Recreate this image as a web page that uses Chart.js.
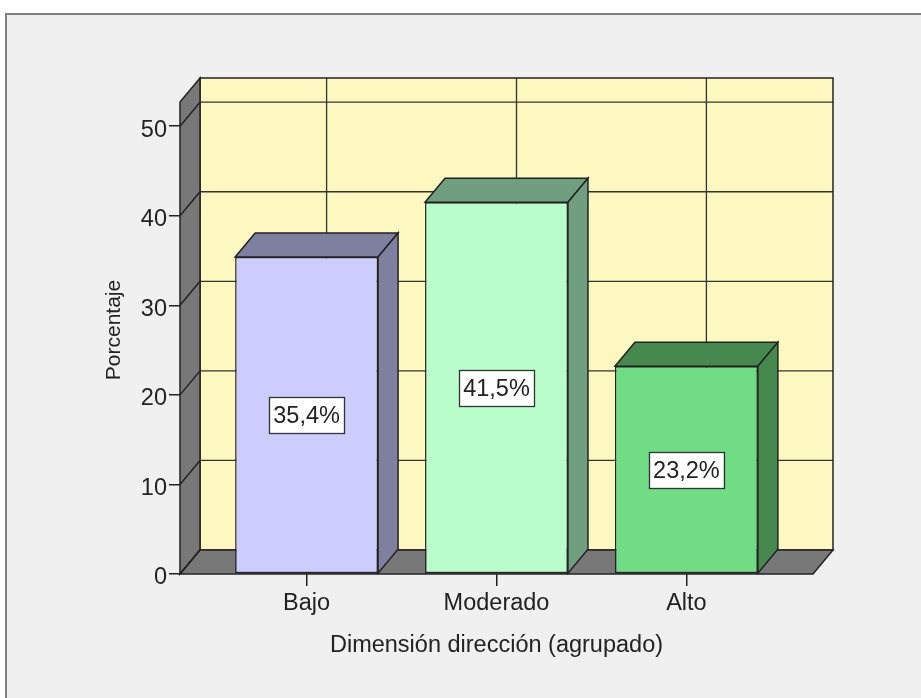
<!DOCTYPE html>
<html>
<head>
<meta charset="utf-8">
<style>
  html, body { margin: 0; padding: 0; background: #ffffff; }
  canvas { display: block; }
</style>
<script src="https://cdn.jsdelivr.net/npm/chart.js@4.4.1/dist/chart.umd.min.js"></script>
</head>
<body>
<canvas id="c" width="921" height="698"></canvas>
<script>
// ---- data ----
const categories = ['Bajo', 'Moderado', 'Alto'];
const percentages = [35.4, 41.5, 23.2];
const yTickValues = [0, 10, 20, 30, 40, 50];
const xTitle = 'Dimensión dirección (agrupado)';
const yTitle = 'Porcentaje';

// ---- styles ----
const frontColors = ['#ccccff', '#b9fdcb', '#70dc84'];
const sideColors = ['#7f7f9f', '#6f9f7f', '#45894f'];
const WALL = '#787878';
const BACK = '#fcf8c0';
const EDGE = '#222222';
const GRID = '#333333';
const DX = 20, DY = 24;
const FONT = '"Liberation Sans", Arial, sans-serif';

const threeD = {
  id: 'threeD',
  beforeDraw(chart) {
    const ctx = chart.ctx;
    ctx.save();
    ctx.fillStyle = '#ffffff';
    ctx.fillRect(0, 0, chart.width, chart.height);
    ctx.fillStyle = '#f0f0f0';
    ctx.fillRect(5, 13, chart.width, chart.height);
    ctx.strokeStyle = '#808080';
    ctx.lineWidth = 2;
    ctx.beginPath();
    ctx.moveTo(6, chart.height + 5);
    ctx.lineTo(6, 14);
    ctx.lineTo(chart.width + 5, 14);
    ctx.stroke();
    ctx.restore();
  },
  beforeDatasetsDraw(chart) {
    const ctx = chart.ctx;
    const xs = chart.scales.x, ys = chart.scales.y;
    const {left, right} = chart.chartArea;
    const y0 = ys.getPixelForValue(0);
    const yMax = ys.getPixelForValue(ys.max);
    ctx.save();
    ctx.lineJoin = 'miter';
    // back wall
    ctx.fillStyle = BACK;
    ctx.fillRect(left + DX, yMax - DY, right - left, y0 - yMax);
    // back grid lines
    ctx.strokeStyle = GRID;
    ctx.lineWidth = 1.3;
    ctx.beginPath();
    yTickValues.forEach(v => {
      if (v === 0) return;
      const py = ys.getPixelForValue(v) - DY;
      ctx.moveTo(left + DX, py);
      ctx.lineTo(right + DX, py);
    });
    categories.forEach((c, i) => {
      const px = xs.getPixelForValue(i) + DX;
      ctx.moveTo(px, yMax - DY);
      ctx.lineTo(px, y0 - DY);
    });
    ctx.stroke();
    // back wall outline
    ctx.strokeStyle = EDGE;
    ctx.lineWidth = 1.5;
    ctx.strokeRect(left + DX, yMax - DY, right - left, y0 - yMax);
    // left wall
    ctx.fillStyle = WALL;
    ctx.beginPath();
    ctx.moveTo(left, yMax);
    ctx.lineTo(left + DX, yMax - DY);
    ctx.lineTo(left + DX, y0 - DY);
    ctx.lineTo(left, y0);
    ctx.closePath();
    ctx.fill();
    ctx.stroke();
    // floor
    ctx.beginPath();
    ctx.moveTo(left, y0);
    ctx.lineTo(right, y0);
    ctx.lineTo(right + DX, y0 - DY);
    ctx.lineTo(left + DX, y0 - DY);
    ctx.closePath();
    ctx.fill();
    ctx.stroke();
    // left wall diagonals
    ctx.beginPath();
    yTickValues.forEach(v => {
      const py = ys.getPixelForValue(v);
      ctx.moveTo(left, py);
      ctx.lineTo(left + DX, py - DY);
    });
    ctx.stroke();
    ctx.restore();
  },
  afterDatasetsDraw(chart) {
    const ctx = chart.ctx;
    const ys = chart.scales.y;
    const meta = chart.getDatasetMeta(0);
    ctx.save();
    ctx.strokeStyle = EDGE;
    ctx.lineWidth = 1.5;
    ctx.lineJoin = 'miter';
    meta.data.forEach((el, i) => {
      const p = el.getProps(['x', 'y', 'base', 'width'], true);
      const x1 = p.x - p.width / 2, x2 = p.x + p.width / 2;
      const yt = p.y, yb = p.base;
      ctx.fillStyle = sideColors[i];
      // top face
      ctx.beginPath();
      ctx.moveTo(x1, yt);
      ctx.lineTo(x1 + DX, yt - DY);
      ctx.lineTo(x2 + DX, yt - DY);
      ctx.lineTo(x2, yt);
      ctx.closePath();
      ctx.fill();
      ctx.stroke();
      // side face
      ctx.beginPath();
      ctx.moveTo(x2, yt);
      ctx.lineTo(x2 + DX, yt - DY);
      ctx.lineTo(x2 + DX, yb - DY);
      ctx.lineTo(x2, yb);
      ctx.closePath();
      ctx.fill();
      ctx.stroke();
    });
    // value labels
    ctx.font = '23.5px ' + FONT;
    ctx.textAlign = 'center';
    ctx.textBaseline = 'middle';
    meta.data.forEach((el, i) => {
      const v = percentages[i];
      const txt = v.toFixed(1).replace('.', ',') + '%';
      const cx = el.x;
      const cy = ys.getPixelForValue(v / 2);
      const w = ctx.measureText(txt).width + 8;
      const h = 36;
      ctx.fillStyle = '#ffffff';
      ctx.fillRect(cx - w / 2, cy - h / 2, w, h);
      ctx.strokeStyle = '#333333';
      ctx.lineWidth = 1.3;
      ctx.strokeRect(Math.round(cx - w / 2) + 0.5, Math.round(cy - h / 2) + 0.5, Math.round(w), h);
      ctx.fillStyle = '#222222';
      ctx.fillText(txt, cx, cy + 1);
    });
    ctx.restore();
  },
  afterDraw(chart) {
    const ctx = chart.ctx;
    ctx.save();
    ctx.translate(120, 330);
    ctx.rotate(-Math.PI / 2);
    ctx.font = '21px ' + FONT;
    ctx.fillStyle = '#222222';
    ctx.textAlign = 'center';
    ctx.textBaseline = 'alphabetic';
    ctx.fillText(yTitle, 0, 0);
    ctx.restore();
  }
};

new Chart(document.getElementById('c'), {
  type: 'bar',
  data: {
    datasets: [{
      data: percentages.map((v, i) => ({x: i, y: v})),
      backgroundColor: frontColors,
      borderColor: EDGE,
      borderWidth: 1.5,
      borderSkipped: false,
      barPercentage: 0.7526,
      categoryPercentage: 1
    }]
  },
  options: {
    responsive: false,
    animation: false,
    devicePixelRatio: 1,
    layout: { padding: { left: 0, top: 102, right: 108, bottom: 0 } },
    plugins: { legend: { display: false }, tooltip: { enabled: false } },
    scales: {
      x: {
        type: 'linear',
        min: -2 / 3,
        max: 8 / 3,
        offset: false,
        afterFit(s) { s.height = 124; },
        afterBuildTicks(s) { s.ticks = categories.map((c, i) => ({value: i})); },
        grid: { display: true, offset: false, drawOnChartArea: false, drawTicks: true, tickLength: 12, color: EDGE, lineWidth: 1.5 },
        border: { display: false },
        ticks: {
          padding: 3.5,
          color: '#222222',
          font: { family: FONT, size: 23.5 },
          maxRotation: 0,
          callback: (v) => categories[v]
        },
        title: {
          display: true,
          text: xTitle,
          color: '#222222',
          font: { family: FONT, size: 23.5 },
          padding: { top: 0, bottom: 38.7 }
        }
      },
      y: {
        type: 'linear',
        min: 0,
        max: 52.7,
        afterFit(s) { s.width = 180; },
        afterBuildTicks(s) { s.ticks = yTickValues.map(v => ({value: v})); },
        grid: { display: true, drawOnChartArea: false, drawTicks: true, tickLength: 11, color: EDGE, lineWidth: 1.5 },
        border: { display: false },
        ticks: {
          padding: 2,
          labelOffset: 4,
          color: '#222222',
          font: { family: FONT, size: 23.5 }
        },
        title: { display: false }
      }
    }
  },
  plugins: [threeD]
});
</script>
</body>
</html>
